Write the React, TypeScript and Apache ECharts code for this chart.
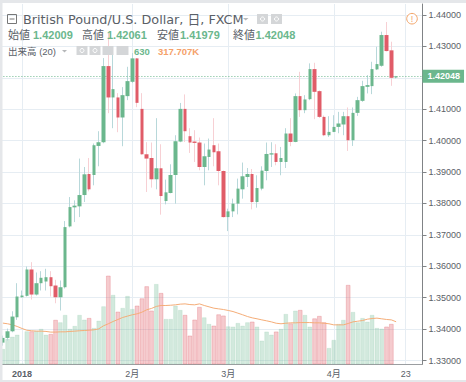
import React, { useEffect, useRef } from "react";
import * as echarts from "echarts";

const opens = [1.33569,1.33719,1.33930,1.34376,1.35014,1.35059,1.35898,1.35100,1.35461,1.35515,1.35652,1.35387,1.35014,1.35333,1.37270,1.37876,1.37908,1.38268,1.38938,1.38906,1.39831,1.39949,1.42374,1.41375,1.41375,1.40737,1.41417,1.41873,1.42619,1.41011,1.39566,1.39448,1.38769,1.39120,1.38077,1.38332,1.38906,1.39971,1.41011,1.40141,1.39971,1.39940,1.39161,1.39480,1.39854,1.39662,1.39034,1.37566,1.37748,1.37994,1.38450,1.38842,1.38938,1.38045,1.38472,1.39034,1.39557,1.39598,1.39321,1.39321,1.40227,1.39959,1.41417,1.40970,1.41321,1.42278,1.41576,1.40756,1.40172,1.40278,1.40437,1.40514,1.40778,1.40013,1.40884,1.41267,1.41713,1.41736,1.42268,1.42383,1.43362,1.42875,1.42009];
const closes = [1.33719,1.33930,1.34399,1.35037,1.35068,1.35898,1.35100,1.35461,1.35633,1.35652,1.35365,1.35014,1.35333,1.37247,1.37885,1.37930,1.38268,1.38928,1.38450,1.39854,1.39949,1.42374,1.41375,1.41640,1.40737,1.41448,1.41895,1.42619,1.41203,1.39566,1.39429,1.38769,1.39120,1.38236,1.38354,1.38906,1.39981,1.41011,1.40300,1.39940,1.39927,1.39161,1.39503,1.39716,1.39630,1.39034,1.37566,1.37748,1.37994,1.38472,1.38865,1.38938,1.38045,1.38491,1.39046,1.39576,1.39598,1.39321,1.39448,1.40227,1.39959,1.41417,1.40970,1.41311,1.42278,1.41554,1.40756,1.40172,1.40278,1.40437,1.40546,1.40778,1.40013,1.40884,1.41289,1.41736,1.41768,1.42278,1.42437,1.43362,1.42852,1.42000,1.42048];
const lows = [1.33473,1.33633,1.33898,1.34293,1.35005,1.35037,1.34941,1.35068,1.35228,1.35228,1.35037,1.34823,1.34590,1.35292,1.37238,1.37407,1.37566,1.38045,1.38386,1.38578,1.39184,1.39917,1.40874,1.40396,1.40268,1.39822,1.41289,1.41831,1.41066,1.39550,1.38364,1.38504,1.38450,1.37643,1.37971,1.38322,1.37994,1.39949,1.39959,1.39608,1.39321,1.39056,1.38578,1.39056,1.39184,1.38578,1.37550,1.37120,1.37566,1.37652,1.38153,1.38523,1.37812,1.37866,1.38418,1.38737,1.39161,1.39215,1.38897,1.39129,1.39822,1.39949,1.40756,1.40874,1.41289,1.40683,1.40720,1.40141,1.40118,1.40268,1.40236,1.40172,1.39672,1.39831,1.40788,1.41235,1.41503,1.41480,1.42246,1.42351,1.42840,1.41745,1.41979];
const highs = [1.33792,1.34016,1.34568,1.35461,1.35228,1.35994,1.36131,1.35802,1.35844,1.35920,1.35844,1.35569,1.35547,1.37439,1.38204,1.38099,1.39429,1.39161,1.39448,1.39908,1.40300,1.42629,1.43426,1.42980,1.41512,1.41704,1.42351,1.42788,1.42629,1.41512,1.39950,1.39940,1.40715,1.39885,1.38759,1.39247,1.40172,1.41200,1.41471,1.40396,1.40332,1.40099,1.39908,1.40067,1.40715,1.39908,1.39050,1.37834,1.38153,1.38791,1.39302,1.39129,1.39097,1.38897,1.39184,1.39940,1.39949,1.39885,1.39799,1.40396,1.40715,1.41503,1.42192,1.41448,1.42460,1.42479,1.41600,1.40800,1.40778,1.40810,1.40916,1.40916,1.41056,1.41056,1.41394,1.41905,1.42087,1.42511,1.42989,1.43468,1.43777,1.43149,1.42061];
const volumes = [117,191,208,223,8,248,248,253,266,223,228,333,315,370,266,288,370,335,347,273,327,434,662,519,394,422,511,414,439,493,583,402,600,533,340,340,439,407,370,216,335,429,352,303,290,374,365,285,283,310,290,315,320,283,179,246,223,246,266,377,307,402,407,370,283,344,362,315,124,184,303,333,593,392,315,347,320,370,273,268,283,303,null];
const volumeMA = [308,303,295,283,268,255,251,248,248,246,241,241,243,243,246,248,251,253,255,258,265,288,303,320,335,350,360,370,377,389,407,417,432,439,439,441,444,449,451,446,444,451,439,429,419,414,409,402,394,382,370,357,347,340,332,325,317,307,303,307,310,310,312,312,312,310,310,307,303,295,295,295,305,317,322,327,337,342,345,340,335,332,318];
const dateTicks: Record<number, string> = { 4: "2018", 27: "2月", 47: "3月", 69: "4月", 84: "23" };
const priceTicks = [1.33, 1.44];
const lastClose = 1.42048;
const BAND_COUNT = 88;

const GREEN = "#6bb78d";
const RED = "#e05c68";
const GREEN_WICK = "#b8d8da";
const RED_WICK = "#f7d0d4";
const TEXT = "#5a6067";
const FONT = "'Liberation Sans', 'Noto Sans CJK JP', sans-serif";
const categories = Array.from({ length: BAND_COUNT }, (_, i) => dateTicks[i] ?? "");
const hasTick = (i: number) => dateTicks[i] !== undefined;

const label = (x: number, y: number, text: string, fill: string, fontSize: number, fontWeight: any = "normal", fontFamily = FONT) => ({
  type: "text", x, y, z: 20, silent: true,
  style: { text, fill, fontSize, fontWeight, fontFamily, textVerticalAlign: "middle" },
});
const square = (x: number, y: number, w = 11, h = 10) => ({
  type: "rect", z: 20, silent: true, shape: { x, y, width: w, height: h }, style: { fill: "#d4d6d8" },
});
const dot = (cx: number, cy: number) => ({
  type: "circle", z: 21, silent: true, shape: { cx, cy, r: 2 }, style: { fill: "none", stroke: "#fff", lineWidth: 1 },
});

export default function App() {
  const ref = useRef<HTMLDivElement>(null);
  useEffect(() => {
    const chart = echarts.init(ref.current!, null, { renderer: "svg" });
    const ohlc = opens.map((o, i) => [o, closes[i], lows[i], highs[i]]);
    const bodies = opens.map((o, i) => [o, closes[i], Math.min(o, closes[i]), Math.max(o, closes[i])]);
    chart.setOption({
      animation: false,
      backgroundColor: "#fff",
      textStyle: { fontFamily: FONT },
      grid: [
        { left: 0.4, right: 43.5, top: 4, bottom: 17.5 },
        { left: 0.4, right: 43.5, top: 15, bottom: 21.5 },
      ],
      xAxis: [
        {
          type: "category", gridIndex: 0, data: categories, boundaryGap: true,
          axisLine: { lineStyle: { color: "#9b9ea1", width: 1 } },
          axisTick: { alignWithLabel: true, interval: (i: number) => hasTick(i), length: 3, lineStyle: { color: "#9b9ea1" } },
          axisLabel: {
            interval: (i: number) => hasTick(i), color: TEXT, fontSize: 9, margin: 5,
            fontWeight: "normal",
            formatter: (v: string) => (v === "2018" ? "{b|2018}" : v),
            rich: { b: { fontWeight: "bold", fontSize: 9, color: TEXT } },
          },
          splitLine: { show: true, alignWithLabel: true, interval: (i: number) => hasTick(i), lineStyle: { color: "#e6edf3", width: 1 } },
        },
        { type: "category", gridIndex: 1, data: categories, boundaryGap: true, show: false },
      ],
      yAxis: [
        {
          type: "value", gridIndex: 0, min: 0, max: 2682, position: "right",
          axisLine: { show: true, lineStyle: { color: "#808386", width: 1 } },
          axisTick: { show: false }, axisLabel: { show: false }, splitLine: { show: false },
        },
        {
          type: "value", gridIndex: 1, min: priceTicks[0], max: priceTicks[1], interval: 0.01, position: "right",
          axisLine: { show: false },
          axisTick: { show: true, length: 4, lineStyle: { color: "#808386" } },
          axisLabel: { color: TEXT, fontSize: 9, margin: 6, formatter: (v: number) => (Math.abs(v - 1.42) < 1e-6 ? "" : v.toFixed(5)) },
          splitLine: { show: true, lineStyle: { color: "#e6edf3", width: 1 } },
        },
      ],
      series: [
        {
          name: "出来高", type: "bar", xAxisIndex: 0, yAxisIndex: 0, barWidth: "100%", z: 2,
          data: volumes.map((v, i) => {
            const up = closes[i] >= opens[i];
            return {
              value: v,
              itemStyle: {
                color: up ? "rgba(107,183,141,0.30)" : "rgba(224,92,104,0.32)",
                borderColor: up ? "rgba(107,183,141,0.14)" : "rgba(224,92,104,0.28)",
                borderWidth: 1,
              },
            };
          }),
        },
        {
          name: "MA", type: "line", xAxisIndex: 0, yAxisIndex: 0, data: volumeMA, symbol: "none", z: 3,
          lineStyle: { color: "#f5ad78", width: 1 },
        },
        {
          name: "wick", type: "candlestick", xAxisIndex: 1, yAxisIndex: 1, data: ohlc, barWidth: 1, z: 4,
          itemStyle: { color: GREEN_WICK, color0: RED_WICK, borderColor: GREEN_WICK, borderColor0: RED_WICK, borderWidth: 1 },
        },
        {
          name: "British Pound/U.S. Dollar", type: "candlestick", xAxisIndex: 1, yAxisIndex: 1, data: bodies, barWidth: 4, z: 5,
          itemStyle: { color: GREEN, color0: RED, borderColor: GREEN, borderColor0: RED, borderWidth: 0 },
          markLine: {
            symbol: "none", silent: true, animation: false, precision: 5,
            lineStyle: { color: GREEN, type: [1, 2], width: 1 },
            label: {
              position: "end", formatter: (p: any) => Number(p.value).toFixed(5), color: "#fff", fontWeight: "bold", fontSize: 9,
              backgroundColor: GREEN, padding: [2, 4, 2, 5], distance: 0,
            },
            data: [{ yAxis: lastClose }],
          },
        },
      ],
      graphic: [
        { type: "rect", z: 19, silent: true, shape: { x: 0, y: 0, width: 466, height: 3 }, style: { fill: "#e5e7ea" } },
        { type: "rect", z: 19, silent: true, shape: { x: 0, y: 0, width: 2.5, height: 382 }, style: { fill: "#e5e7ea" } },
        { type: "rect", z: 19, silent: true, shape: { x: 0, y: 380, width: 466, height: 2 }, style: { fill: "#e5e7ea" } },
        { type: "rect", z: 20, silent: true, shape: { x: 7.5, y: 14.5, width: 9, height: 9 }, style: { fill: "none", stroke: "#777", lineWidth: 1 } },
        { type: "line", z: 20, silent: true, shape: { x1: 9.5, y1: 19, x2: 14.5, y2: 19 }, style: { stroke: "#777", lineWidth: 1 } },
        label(23, 19.5, "British Pound/U.S. Dollar, 日, FXCM", TEXT, 12.8, "normal", "'DejaVu Sans', 'Noto Sans CJK JP', sans-serif"),
        { type: "polygon", z: 20, silent: true, shape: { points: [[243, 18], [248.5, 18], [245.7, 20.5]] }, style: { fill: "#b5b7b9" } },
        square(257, 14), square(271, 14),
        dot(262.5, 19), dot(276.5, 19),
        label(8, 34.5, "始値", TEXT, 11),
        label(33, 34.5, "1.42009", GREEN, 11, "bold"),
        label(82, 34.5, "高値", TEXT, 11),
        label(107, 34.5, "1.42061", GREEN, 11, "bold"),
        label(157, 34.5, "安値", TEXT, 11),
        label(180, 34.5, "1.41979", GREEN, 11, "bold"),
        label(233, 34.5, "終値", TEXT, 11),
        label(255.5, 34.5, "1.42048", GREEN, 11, "bold"),
        label(8, 51, "出来高 (20)", TEXT, 9.5),
        { type: "polygon", z: 20, silent: true, shape: { points: [[62, 50], [67, 50], [64.5, 52.5]] }, style: { fill: "#b5b7b9" } },
        square(76.5, 46, 11, 9), square(89.5, 46, 11, 9), square(102.5, 46, 11, 9), square(116.5, 46, 12, 9),
        dot(82, 50.5), dot(95, 50.5),
        label(134, 51, "630", GREEN, 9.5, "bold"),
        label(158, 51, "317.707K", "#f5a26a", 9.5, "bold"),
        { type: "circle", z: 20, silent: true, shape: { cx: 412, cy: 18.7, r: 5.3 }, style: { fill: "#fff", stroke: "#f3a468", lineWidth: 1 } },
        { type: "text", z: 21, silent: true, x: 412, y: 19, style: { text: "!", fill: "#f3a468", fontSize: 9, fontFamily: FONT, textAlign: "center", textVerticalAlign: "middle" } },
      ],
    });
    return () => chart.dispose();
  }, []);
  return <div ref={ref} style={{ position: "fixed", left: 0, top: 0, width: 466, height: 382 }} />;
}
